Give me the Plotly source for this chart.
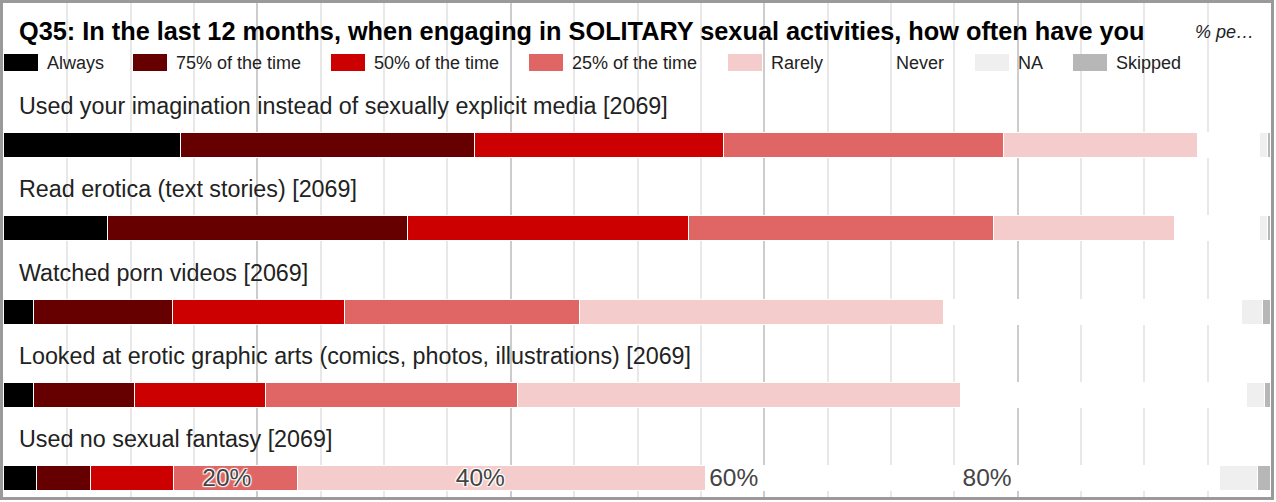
import plotly.graph_objects as go

# ---------------- data ----------------
categories = [
    "Used your imagination instead of sexually explicit media [2069]",
    "Read erotica (text stories) [2069]",
    "Watched porn videos [2069]",
    "Looked at erotic graphic arts (comics, photos, illustrations) [2069]",
    "Used no sexual fantasy [2069]",
]
series_names = ["Always", "75% of the time", "50% of the time", "25% of the time",
                "Rarely", "Never", "NA", "Skipped"]
always   = [14.0, 8.2, 2.4, 2.4, 2.6]
p75      = [23.2, 23.7, 10.9, 7.9, 4.3]
p50      = [19.6, 22.2, 13.6, 10.4, 6.5]
p25      = [22.1, 24.0, 18.6, 19.9, 9.8]
rarely   = [15.3, 14.3, 28.7, 34.9, 32.2]
never    = [4.9, 6.7, 23.5, 22.6, 40.6]
na       = [0.7, 0.7, 1.7, 1.4, 3.0]
skipped  = [0.2, 0.2, 0.6, 0.5, 1.0]
series_values = [always, p75, p50, p25, rarely, never, na, skipped]
colors = ["#000000", "#660000", "#cc0000", "#e06666", "#f4cccc", "#ffffff", "#efefef", "#b7b7b7"]
tick_vals = [20, 40, 60, 80]
tick_text = ["20%", "40%", "60%", "80%"]
title_text = "Q35: In the last 12 months, when engaging in SOLITARY sexual activities, how often have you"

# ---------------- layout constants ----------------
W, H = 1276, 502
ML, MR, MT, MB = 4, 5, 0, 5
PW, PH = W - ML - MR, H - MT - MB
ROW = 83.25          # px per category row
FIRST_BAR = 145.5    # px from top of plot to first bar centre
FONT = "Liberation Sans, Arial, Helvetica, sans-serif"


def py(px):
    """pixel y (from plot top) -> data y"""
    return (px - FIRST_BAR) / ROW


def pxx(px):
    """pixel x (from page left) -> paper x"""
    return (px - ML) / PW


y_top = py(0)
y_bot = py(PH)

fig = go.Figure()
yidx = list(range(len(categories)))
for name, vals, col in zip(series_names, series_values, colors):
    fig.add_trace(go.Bar(
        x=vals, y=yidx, orientation="h", name=name,
        marker=dict(color=col, line=dict(color="white", width=1.5)),
        width=25 / ROW, showlegend=False,
        hovertemplate=name + ": %{x:.1f}%<extra></extra>",
    ))

annotations = []
# category labels
for i, c in enumerate(categories):
    annotations.append(dict(
        x=pxx(17), xref="paper", y=i + py(106) - py(FIRST_BAR), yref="y",
        text=c, showarrow=False, xanchor="left", yanchor="middle",
        font=dict(family=FONT, size=23.3, color="#222222")))
# title
annotations.append(dict(
    x=pxx(17), xref="paper", y=py(31), yref="y", text="<b>" + title_text + "</b>",
    showarrow=False, xanchor="left", yanchor="middle",
    font=dict(family=FONT, size=25.3, color="#000000")))
annotations.append(dict(
    x=pxx(1193), xref="paper", y=py(32), yref="y", text="<i>% pe…</i>",
    showarrow=False, xanchor="left", yanchor="middle",
    font=dict(family=FONT, size=18, color="#222222")))

# custom legend
legend_x = [4, 133, 331, 529, 728, 853, 975, 1073]
shapes = []
for name, col, lx in zip(series_names, colors, legend_x):
    shapes.append(dict(type="rect", xref="paper", yref="y",
                       x0=pxx(lx), x1=pxx(lx + 34), y0=py(54), y1=py(71),
                       fillcolor=col, line=dict(width=0), layer="above"))
    annotations.append(dict(
        x=pxx(lx + 41), xref="paper", y=py(62.5), yref="y", text=name,
        showarrow=False, xanchor="left", yanchor="middle",
        font=dict(family=FONT, size=18, color="#222222")))

# frame
shapes.append(dict(type="rect", xref="paper", yref="paper",
                   x0=(1.5 - ML) / PW, x1=(1272.5 - ML) / PW,
                   y0=(PH - 498.5 + MT) / PH, y1=(PH - 1.5 + MT) / PH,
                   line=dict(color="#9a9a9a", width=3), fillcolor="rgba(0,0,0,0)",
                   layer="above"))

fig.update_layout(
    width=W, height=H, autosize=False,
    margin=dict(l=ML, r=MR, t=MT, b=MB, pad=0),
    paper_bgcolor="white", plot_bgcolor="white",
    barmode="stack", bargap=0,
    font=dict(family=FONT),
    showlegend=False,
    annotations=annotations, shapes=shapes,
    xaxis=dict(
        range=[0, 100], tickmode="array", tickvals=tick_vals, ticktext=tick_text,
        showgrid=True, gridcolor="#cccccc", gridwidth=2,
        minor=dict(dtick=5, tick0=0, showgrid=True, gridcolor="#e8e8e8", gridwidth=2),
        ticks="", showline=False, zeroline=False,
        ticklabelposition="inside left", ticklabelshift=-6,
        tickfont=dict(family=FONT, size=24.5, color="#444444",
                      shadow="1px 1px 1px white, -1px -1px 1px white, 1px -1px 1px white, -1px 1px 1px white"),
        fixedrange=True,
    ),
    yaxis=dict(range=[y_bot, y_top], visible=False, showgrid=False, fixedrange=True),
)

fig.write_html("out.html", include_plotlyjs=True, config={"displayModeBar": False},
               post_script="document.body.style.margin='0';document.body.style.overflow='hidden';")
